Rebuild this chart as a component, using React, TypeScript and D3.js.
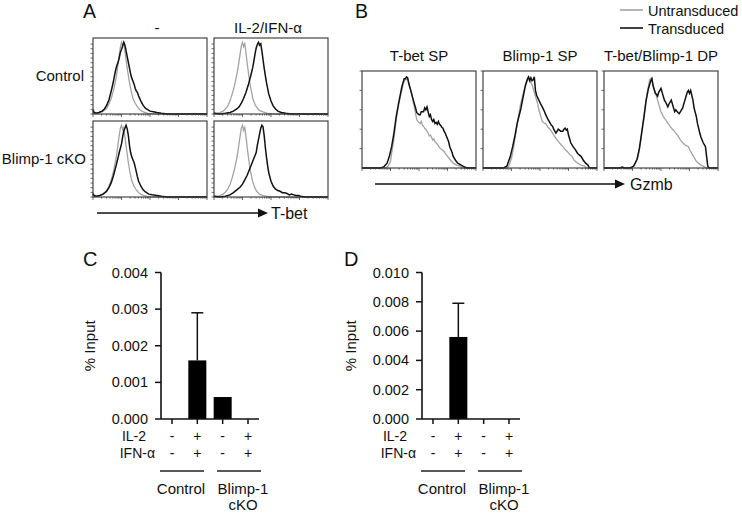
import React from "react";
import * as d3 from "d3";

type Pt = [number, number];

const FONT = "'Liberation Sans', Arial, Helvetica, sans-serif";
const GRAY = "#a3a3a3";
const BLACK = "#111";
const FS = 15;

// ---------- Panel A data (x: % of channel range, y: % of box height) ----------
const A_COLS = ["-", "IL-2/IFN-α"];
const A_ROWS = ["Control", "Blimp-1 cKO"];

const A_CTRL_NONE_GRAY: Pt[] = [[0,4],[1,1],[3,1],[6,2],[9,4],[12,8],[14,14],[16,22],[18,33],[20,48],[21,58],[22,70],[23,82],[24,93],[25,100],[26,96],[27,99],[28,88],[29,76],[30,64],[31,54],[32,44],[33,36],[34,28],[35,22],[37,15],[39,10],[41,6],[44,3],[48,1],[55,0],[100,0]];
const A_CTRL_NONE_BLACK: Pt[] = [[0,6],[1,2],[3,1],[5,2],[8,4],[10,7],[12,12],[14,20],[16,32],[18,46],[19,55],[20,62],[21,68],[22,72],[23,78],[24,86],[25,90],[26,95],[27,100],[28,96],[29,88],[30,80],[31,72],[32,64],[33,56],[34,50],[35,46],[36,42],[37,36],[38,32],[39,30],[40,25],[42,18],[44,12],[46,8],[48,6],[50,4],[53,3],[56,2],[60,1],[65,0],[100,0]];
const A_CTRL_STIM_GRAY: Pt[] = [[0,2],[2,1],[5,2],[8,4],[10,7],[12,11],[14,18],[16,28],[18,40],[20,55],[21,64],[22,74],[23,85],[24,95],[25,100],[26,94],[27,98],[28,86],[29,72],[30,60],[31,48],[32,38],[33,30],[34,22],[36,13],[38,8],[40,5],[43,3],[47,1],[52,0],[100,0]];
const A_CTRL_STIM_BLACK: Pt[] = [[0,1],[5,0],[10,1],[14,2],[17,4],[20,7],[22,10],[24,15],[26,22],[28,30],[30,40],[32,52],[34,65],[35,74],[36,84],[37,92],[38,97],[39,100],[40,96],[41,98],[42,88],[43,76],[44,64],[45,54],[46,44],[47,36],[48,28],[50,18],[52,11],[54,7],[56,4],[59,2],[63,1],[68,0],[100,0]];
const A_CKO_NONE_GRAY: Pt[] = [[0,4],[1,1],[3,1],[6,2],[9,5],[12,9],[14,15],[16,24],[18,36],[20,52],[21,62],[22,74],[23,86],[24,96],[25,100],[26,94],[27,97],[28,84],[29,72],[30,60],[31,48],[32,38],[33,30],[34,23],[36,15],[38,10],[40,6],[43,3],[47,1],[54,0],[100,0]];
const A_CKO_NONE_BLACK: Pt[] = [[0,5],[1,2],[3,1],[6,2],[9,4],[12,8],[14,13],[16,20],[18,30],[20,42],[22,55],[23,62],[24,68],[25,74],[26,84],[27,92],[28,96],[29,100],[30,95],[31,86],[32,72],[33,62],[34,56],[35,52],[36,48],[37,42],[38,35],[39,28],[40,22],[42,15],[44,10],[46,7],[49,4],[52,3],[56,2],[60,1],[65,0],[100,0]];
const A_CKO_STIM_GRAY: Pt[] = [[0,2],[2,1],[5,2],[8,4],[10,7],[12,11],[14,17],[16,27],[18,39],[20,54],[21,64],[22,75],[23,86],[24,96],[25,100],[26,93],[27,97],[28,85],[29,71],[30,58],[31,46],[32,36],[33,28],[34,21],[36,12],[38,7],[40,4],[43,2],[47,1],[52,0],[100,0]];
const A_CKO_STIM_BLACK: Pt[] = [[0,1],[5,0],[10,1],[14,3],[17,6],[20,10],[23,14],[25,18],[27,24],[29,30],[31,38],[33,46],[35,54],[36,58],[37,62],[38,72],[39,80],[40,88],[41,96],[42,100],[43,98],[44,86],[45,70],[46,56],[47,44],[48,34],[50,22],[52,15],[54,11],[56,9],[58,8],[60,6],[62,6],[64,5],[66,3],[68,4],[70,3],[72,2],[74,2],[76,1],[80,0],[100,0]];

// ---------- Panel B data ----------
const B_TITLES = ["T-bet SP", "Blimp-1 SP", "T-bet/Blimp-1 DP"];
const LEGEND = ["Untransduced", "Transduced"];

const B_TBET_GRAY: Pt[] = [[0,0],[21,0],[23,2],[25,7],[26,15],[28,30],[30,50],[32,64],[34,76],[35,80],[36,86],[37,89],[38,92],[39,91],[40,93],[41,89],[42,84],[44,74],[46,62],[48,50],[49,48],[50,47],[51,46],[52,48],[53,44],[54,43],[55,41],[56,40],[57,38],[58,36],[59,33],[60,34],[62,29],[63,30],[64,27],[65,26],[67,23],[68,21],[70,19],[72,17],[73,15],[75,12],[77,9],[80,5],[83,3],[86,2],[88,0],[100,0]];
const B_TBET_BLACK: Pt[] = [[0,0],[16,0],[19,1],[22,5],[24,12],[26,22],[28,36],[30,53],[32,66],[34,78],[35,84],[36,88],[37,92],[38,92],[39,94],[40,93],[41,87],[43,79],[45,70],[47,62],[48,57],[50,55],[51,55],[52,58],[54,58],[55,62],[56,60],[57,63],[58,58],[59,53],[60,55],[61,50],[62,48],[63,50],[64,46],[65,47],[66,45],[67,48],[68,45],[69,44],[70,42],[71,41],[72,38],[73,36],[74,33],[76,27],[77,22],[79,16],[80,12],[82,8],[84,5],[87,3],[90,1],[92,0],[100,0]];
const B_BLIMP_GRAY: Pt[] = [[0,0],[21,0],[23,3],[25,10],[27,22],[29,38],[31,53],[33,66],[36,80],[38,88],[40,92],[41,90],[42,88],[43,86],[44,82],[46,74],[48,66],[49,60],[51,52],[52,48],[54,46],[55,46],[57,42],[58,41],[60,38],[61,36],[63,32],[65,29],[67,26],[70,22],[72,19],[74,17],[76,14],[78,12],[80,8],[83,5],[86,3],[89,2],[91,0],[100,0]];
const B_BLIMP_BLACK: Pt[] = [[0,0],[18,0],[21,2],[24,12],[26,22],[28,33],[30,46],[33,60],[35,72],[37,84],[39,92],[40,94],[41,90],[42,93],[43,90],[44,91],[45,94],[46,80],[47,75],[49,70],[51,65],[52,63],[54,58],[55,55],[57,50],[58,48],[60,44],[61,43],[62,40],[64,36],[65,38],[66,40],[67,39],[68,38],[70,38],[71,40],[72,41],[73,39],[74,40],[75,34],[77,26],[79,22],[81,19],[83,15],[86,12],[88,8],[90,5],[92,3],[93,1],[94,0],[100,0]];
const B_DP_GRAY: Pt[] = [[0,0],[24,0],[27,3],[30,12],[32,26],[34,45],[36,63],[38,78],[40,91],[41,92],[42,93],[43,86],[45,77],[46,74],[47,70],[49,62],[50,58],[52,53],[54,50],[56,46],[58,43],[60,40],[61,39],[63,36],[65,33],[67,29],[69,26],[71,24],[72,23],[74,22],[75,19],[77,15],[79,11],[81,7],[83,5],[85,3],[87,2],[90,0],[100,0]];
const B_DP_BLACK: Pt[] = [[0,0],[14,0],[16,1],[18,0],[23,0],[26,2],[29,9],[31,20],[33,36],[35,52],[37,70],[39,82],[41,90],[42,92],[43,85],[45,77],[46,76],[47,74],[48,78],[50,82],[51,78],[53,70],[54,68],[56,63],[57,66],[59,70],[60,66],[62,58],[63,60],[65,57],[66,56],[68,60],[69,62],[71,70],[72,74],[73,78],[74,80],[75,77],[76,80],[77,75],[78,70],[79,62],[81,53],[82,46],[84,36],[85,32],[87,26],[88,24],[89,22],[90,12],[91,2],[92,0],[100,0]];

// ---------- Panels C / D data ----------
const CONDITIONS = ["ctrl-", "ctrl+", "cko-", "cko+"];
const IL2_ROW = ["-", "+", "-", "+"];
const IFN_ROW = ["-", "+", "-", "+"];
const GROUPS = ["Control", "Blimp-1"];
const C_MEANS = [0, 0.0016, 0.0006, 0];
const C_UPPER = [0, 0.0029, 0, 0];
const C_TICKS = [0, 0.001, 0.002, 0.003, 0.004];
const D_MEANS = [0, 0.0056, 0, 0];
const D_UPPER = [0, 0.0079, 0, 0];
const D_TICKS = [0, 0.002, 0.004, 0.006, 0.008, 0.01];

function Histo({ x0, y0, w, h, gray, black, yMax, leftTicks }: { x0: number; y0: number; w: number; h: number; gray: Pt[]; black: Pt[]; yMax: number; leftTicks: number[] }) {
  const xs = d3.scaleLinear().domain([0, 100]).range([x0, x0 + w]);
  const ys = d3.scaleLinear().domain([0, yMax]).range([y0 + h, y0]);
  const line = d3.line<Pt>().x((d) => xs(d[0])).y((d) => ys(d[1]));
  const logX = d3.scaleLog().domain([10, 1e5]).range([x0, x0 + w]);
  const bt = logX.ticks();
  return (
    <g>
      <path d={line(gray) || ""} fill="none" stroke={GRAY} strokeWidth={1.3} />
      <path d={line(black) || ""} fill="none" stroke={BLACK} strokeWidth={1.5} />
      <rect x={x0} y={y0} width={w} height={h} fill="none" stroke="#333" strokeWidth={1.1} />
      {leftTicks.map((t, i) => (
        <line key={"l" + i} x1={x0} x2={x0 - 2.5} y1={ys(t)} y2={ys(t)} stroke="#444" strokeWidth={0.8} />
      ))}
      {bt.map((t, i) => {
        const major = Math.abs(Math.log10(t) - Math.round(Math.log10(t))) < 1e-6;
        return <line key={"b" + i} x1={logX(t)} x2={logX(t)} y1={y0 + h} y2={y0 + h + (major ? 3 : 1.6)} stroke="#444" strokeWidth={0.8} />;
      })}
    </g>
  );
}

function Arrow({ x1, x2, y }: { x1: number; x2: number; y: number }) {
  return (
    <g>
      <line x1={x1} x2={x2 - 7} y1={y} y2={y} stroke="#111" strokeWidth={1.5} />
      <polygon points={`${x2},${y} ${x2 - 10},${y - 4.5} ${x2 - 10},${y + 4.5}`} fill="#111" />
    </g>
  );
}

function BarPanel({ ax, means, upper, ticks, yMax, letter, letterX }: { ax: number; means: number[]; upper: number[]; ticks: number[]; yMax: number; letter: string; letterX: number }) {
  const y = d3.scaleLinear().domain([0, yMax]).range([419, 272.5]);
  const x = d3.scalePoint<string>().domain(CONDITIONS).range([ax + 11, ax + 87]);
  const bw = 18;
  const axEnd = ax + 98;
  const rowFs = 14;
  return (
    <g fontFamily={FONT} fill="#111">
      <text x={letterX} y={266} fontSize={20}>{letter}</text>
      <text transform={`translate(${ax - 66},${y(yMax / 2)}) rotate(-90)`} textAnchor="middle" fontSize={FS}>% Input</text>
      {CONDITIONS.map((c, i) => (
        <g key={c}>
          {means[i] > 0 && <rect x={x(c)! - bw / 2} y={y(means[i])} width={bw} height={y(0) - y(means[i])} fill="#000" />}
          {upper[i] > means[i] && (
            <g stroke="#111" strokeWidth={1.5}>
              <line x1={x(c)!} x2={x(c)!} y1={y(means[i])} y2={y(upper[i])} />
              <line x1={x(c)! - 6} x2={x(c)! + 6} y1={y(upper[i])} y2={y(upper[i])} />
            </g>
          )}
          <line x1={x(c)!} x2={x(c)!} y1={419} y2={424} stroke="#111" strokeWidth={1.5} />
          <text x={x(c)!} y={440.5} textAnchor="middle" fontSize={rowFs}>{IL2_ROW[i]}</text>
          <text x={x(c)!} y={457.5} textAnchor="middle" fontSize={rowFs}>{IFN_ROW[i]}</text>
        </g>
      ))}
      <line x1={ax} x2={ax} y1={272.5} y2={419} stroke="#111" strokeWidth={1.6} />
      <line x1={ax} x2={axEnd} y1={419} y2={419} stroke="#111" strokeWidth={1.6} />
      {ticks.map((t) => (
        <g key={t}>
          <line x1={ax - 6} x2={ax} y1={y(t)} y2={y(t)} stroke="#111" strokeWidth={1.5} />
          <text x={ax - 13} y={y(t)} dy="0.35em" textAnchor="end" fontSize={14.5}>{d3.format(".3f")(t)}</text>
        </g>
      ))}
      <text x={ax - 15} y={440.5} textAnchor="end" fontSize={rowFs}>IL-2</text>
      <text x={ax - 6} y={457.5} textAnchor="end" fontSize={rowFs}>IFN-α</text>
      <line x1={ax - 1} x2={ax + 43} y1={471} y2={471} stroke="#222" strokeWidth={1.5} />
      <line x1={ax + 56} x2={ax + 100} y1={471} y2={471} stroke="#222" strokeWidth={1.5} />
      <text x={ax + 20} y={494} textAnchor="middle" fontSize={FS}>{GROUPS[0]}</text>
      <text x={ax + 82} y={494} textAnchor="middle" fontSize={FS}>{GROUPS[1]}</text>
      <text x={ax + 82} y={510} textAnchor="middle" fontSize={FS}>cKO</text>
    </g>
  );
}

export default function App() {
  const aBoxes = [
    { x: 93, y: 38, g: A_CTRL_NONE_GRAY, b: A_CTRL_NONE_BLACK },
    { x: 214, y: 38, g: A_CTRL_STIM_GRAY, b: A_CTRL_STIM_BLACK },
    { x: 93, y: 121, g: A_CKO_NONE_GRAY, b: A_CKO_NONE_BLACK },
    { x: 214, y: 121, g: A_CKO_STIM_GRAY, b: A_CKO_STIM_BLACK },
  ];
  const aLeftTicks = d3.range(0, 101, 6.5);
  const bBoxes = [
    { x: 362, g: B_TBET_GRAY, b: B_TBET_BLACK },
    { x: 483, g: B_BLIMP_GRAY, b: B_BLIMP_BLACK },
    { x: 604, g: B_DP_GRAY, b: B_DP_BLACK },
  ];
  const bLeftTicks = [20, 40, 60, 80, 100];
  return (
    <svg width={742} height={513} style={{ position: "absolute", left: 0, top: 0, background: "#fff" }} fontFamily={FONT}>
      <rect width={742} height={513} fill="#fff" />
      {/* Panel A */}
      <text x={83} y={18} fontSize={19.5} fill="#111">A</text>
      <text x={157} y={33} textAnchor="middle" fontSize={FS} fill="#111">{A_COLS[0]}</text>
      <text x={268} y={33} textAnchor="middle" fontSize={FS} fill="#111">{A_COLS[1]}</text>
      <text x={84} y={81} textAnchor="end" fontSize={FS} fill="#111">{A_ROWS[0]}</text>
      <text x={86} y={164} textAnchor="end" fontSize={FS} fill="#111">{A_ROWS[1]}</text>
      {aBoxes.map((bx, i) => (
        <Histo key={i} x0={bx.x} y0={bx.y} w={114} h={76} gray={bx.g} black={bx.b} yMax={106} leftTicks={aLeftTicks} />
      ))}
      <Arrow x1={97} x2={268} y={213} />
      <text x={271} y={219} fontSize={16} fill="#111">T-bet</text>

      {/* Panel B */}
      <text x={355} y={18} fontSize={19.5} fill="#111">B</text>
      <line x1={620} x2={643} y1={10} y2={10} stroke={GRAY} strokeWidth={1.6} />
      <text x={648} y={15.5} fontSize={14.5} fill="#111">{LEGEND[0]}</text>
      <line x1={620} x2={643} y1={28} y2={28} stroke={BLACK} strokeWidth={1.6} />
      <text x={648} y={34} fontSize={14.5} fill="#111">{LEGEND[1]}</text>
      {bBoxes.map((bx, i) => (
        <g key={i}>
          <text x={bx.x + 57} y={61} textAnchor="middle" fontSize={FS} fill="#111">{B_TITLES[i]}</text>
          <Histo x0={bx.x} y0={71} w={114} h={97} gray={bx.g} black={bx.b} yMax={100} leftTicks={bLeftTicks} />
        </g>
      ))}
      <Arrow x1={375} x2={625} y={184} />
      <text x={630} y={189.5} fontSize={16} fill="#111">Gzmb</text>

      {/* Panel C */}
      <BarPanel ax={161} means={C_MEANS} upper={C_UPPER} ticks={C_TICKS} yMax={0.004} letter="C" letterX={83} />
      {/* Panel D */}
      <BarPanel ax={422} means={D_MEANS} upper={D_UPPER} ticks={D_TICKS} yMax={0.01} letter="D" letterX={344} />
    </svg>
  );
}
